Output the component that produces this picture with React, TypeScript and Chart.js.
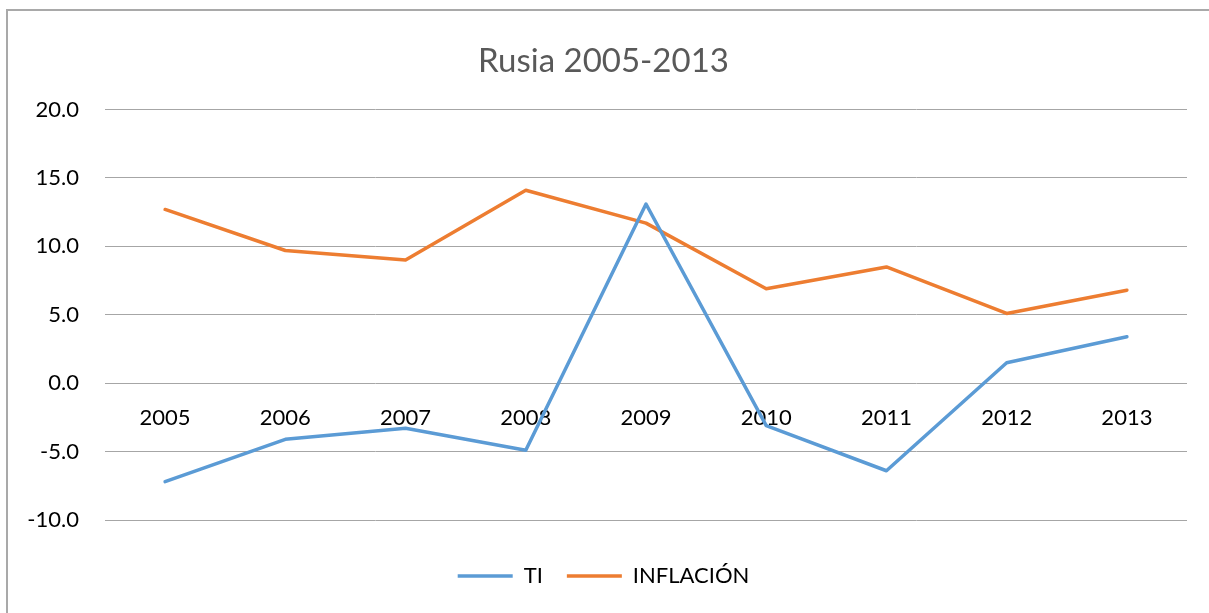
import React, { useEffect, useRef } from "react";
import { Chart, registerables } from "chart.js";

Chart.register(...registerables);

const categories = ["2005", "2006", "2007", "2008", "2009", "2010", "2011", "2012", "2013"];
const tiValues = [-7.2, -4.1, -3.3, -4.9, 13.1, -3.1, -6.4, 1.5, 3.4];
const inflacionValues = [12.7, 9.7, 9.0, 14.1, 11.7, 6.9, 8.5, 5.1, 6.8];
const chartTitle = "Rusia 2005-2013";
const seriesNames = ["TI", "INFLACIÓN"];

const FONT = "Lato, 'Open Sans', sans-serif";

const borderPlugin = {
  id: "outerBorder",
  beforeDraw(chart: any) {
    const ctx = chart.ctx;
    ctx.save();
    ctx.strokeStyle = "#a9a9a9";
    ctx.lineWidth = 2;
    ctx.strokeRect(7, 10, chart.width + 20, chart.height + 20);
    ctx.restore();
  },
};

export default function App() {
  const ref = useRef<HTMLCanvasElement>(null);
  useEffect(() => {
    if (!ref.current) return;
    const chart = new Chart(ref.current, {
      type: "line",
      data: {
        labels: categories,
        datasets: [
          {
            label: seriesNames[0],
            data: tiValues,
            borderColor: "#5b9bd5",
            backgroundColor: "#5b9bd5",
            borderWidth: 3.5,
            pointRadius: 0,
            tension: 0,
            borderCapStyle: "round",
            borderJoinStyle: "round",
          },
          {
            label: seriesNames[1],
            data: inflacionValues,
            borderColor: "#ed7d31",
            backgroundColor: "#ed7d31",
            borderWidth: 3.5,
            pointRadius: 0,
            tension: 0,
            borderCapStyle: "round",
            borderJoinStyle: "round",
          },
        ],
      },
      options: {
        animation: false,
        responsive: false,
        layout: { padding: { left: 20, right: 22, top: 26, bottom: 16 } },
        plugins: {
          title: {
            display: true,
            text: chartTitle,
            color: "#595959",
            font: { family: FONT, size: 33, weight: "normal" },
            padding: { top: 16, bottom: 28 },
          },
          legend: {
            position: "bottom",
            labels: {
              usePointStyle: true,
              pointStyle: "line",
              pointStyleWidth: 55,
              color: "#000",
              font: { family: FONT, size: 22 },
              padding: 24,
            },
          },
          tooltip: { enabled: false },
        },
        scales: {
          x: {
            type: "category",
            position: { y: 0 } as any,
            offset: true,
            grid: { display: false, drawTicks: false },
            border: { display: false },
            ticks: { color: "#000", font: { family: FONT, size: 22 }, padding: 22, maxRotation: 0 },
          },
          xSpacer: {
            type: "linear",
            axis: "x",
            position: "bottom",
            display: true,
            grid: { display: false, drawTicks: false },
            border: { display: false },
            ticks: { display: false },
            afterFit: (scale: any) => {
              scale.height = 21;
            },
          },
          y: {
            min: -10,
            max: 20,
            grid: { color: "#a6a6a6", lineWidth: 1, drawTicks: false },
            border: { display: false },
            ticks: {
              stepSize: 5,
              color: "#000",
              padding: 26,
              font: { family: FONT, size: 22 },
              callback: (v: any) => Number(v).toFixed(1),
            },
            afterFit: (scale: any) => {
              scale.width = 85;
            },
          },
        },
      },
      plugins: [borderPlugin],
    });
    return () => chart.destroy();
  }, []);
  return (
    <div style={{ position: "absolute", left: 0, top: 0, width: 1209, height: 613, background: "#fff" }}>
      <canvas ref={ref} width={1209} height={613} style={{ width: 1209, height: 613, display: "block" }} />
    </div>
  );
}
